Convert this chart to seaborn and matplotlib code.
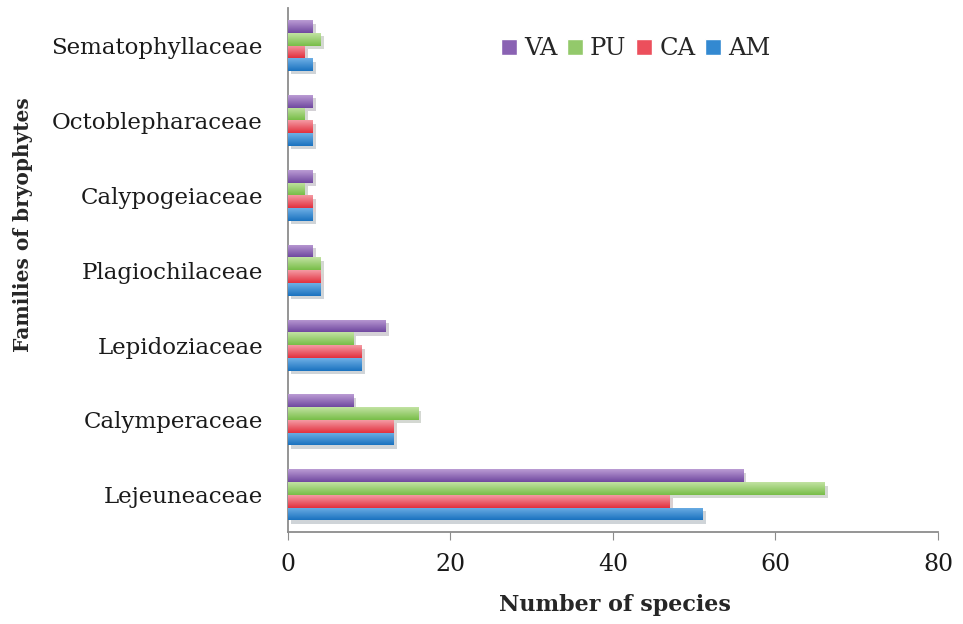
import numpy as np
import pandas as pd
import matplotlib
matplotlib.use("Agg")
import matplotlib.pyplot as plt
import seaborn as sns
from matplotlib.colors import LinearSegmentedColormap
from matplotlib import patheffects

# familias de arriba hacia abajo, como en la figura
families = ["Sematophyllaceae", "Octoblepharaceae", "Calypogeiaceae",
            "Plagiochilaceae", "Lepidoziaceae", "Calymperaceae", "Lejeuneaceae"]
sites = ["VA", "PU", "CA", "AM"]

va = [3, 3, 3, 3, 12, 8, 56]
pu = [4, 2, 2, 4, 8, 16, 66]
ca = [2, 3, 3, 4, 9, 13, 47]
am = [3, 3, 3, 4, 9, 13, 51]

palette = {"VA": "#8a62b3", "PU": "#93c96b", "CA": "#ec4f5c", "AM": "#3389d1"}
# (claro arriba, oscuro abajo) para el degradado tipo Excel
shades = {"VA": ("#bb9cd4", "#7048a0"), "PU": ("#c2e3a2", "#78bd48"),
          "CA": ("#f59aa3", "#e2303e"), "AM": ("#6fb0e6", "#1a72bf")}

df = pd.DataFrame({
    "family": families * 4,
    "site": [s for s in sites for _ in families],
    "species": va + pu + ca + am,
})

sns.set_style("white")
plt.rcParams["font.family"] = ["DejaVu Serif"]

fig = plt.figure(figsize=(9.63, 6.24), dpi=100)
ax = fig.add_axes([0.299, 0.147, 0.675, 0.840])

sns.barplot(data=df, y="family", x="species", hue="site", order=families,
            hue_order=sites, palette=palette, orient="h", width=0.68,
            saturation=1, errorbar=None, ax=ax)

# degradado vertical en cada barra
grad = np.linspace(0, 1, 64).reshape(-1, 1)
for cont, site in zip(ax.containers, sites):
    cmap = LinearSegmentedColormap.from_list(site, shades[site])
    for bar in cont:
        x0, y0 = bar.get_x(), bar.get_y()
        w, h = bar.get_width(), bar.get_height()
        bar.set_edgecolor("none")
        bar.set_path_effects([patheffects.SimplePatchShadow(offset=(2.5, -2.5), alpha=0.2),
                              patheffects.Normal()])
        im = ax.imshow(grad, cmap=cmap, aspect="auto", origin="upper",
                       extent=(x0, x0 + w, y0 + h, y0), zorder=3)
        im.set_clip_path(bar)

ax.set_xlim(0, 80)
ax.set_ylim(6.5, -0.5)
ax.set_xticks([0, 20, 40, 60, 80])

for side in ["top", "right"]:
    ax.spines[side].set_visible(False)
for side in ["left", "bottom"]:
    ax.spines[side].set_color("#8c8c8c")
    ax.spines[side].set_linewidth(1.3)

ax.tick_params(axis="x", length=6, color="#8c8c8c", labelsize=17, pad=9, bottom=True)
ax.tick_params(axis="y", length=0, labelsize=16.5, pad=18)
for lbl in ax.get_xticklabels() + ax.get_yticklabels():
    lbl.set_color("#1a1a1a")

ax.set_xlabel("Number of species", fontsize=16, fontweight="bold")
ax.xaxis.set_label_coords(0.503, -0.118)
ax.set_ylabel("Families of bryophytes", fontsize=14.5, fontweight="bold")
ax.yaxis.set_label_coords(-0.392, 0.586)

handles, labels = ax.get_legend_handles_labels()
ax.legend(handles, labels, loc="center", bbox_to_anchor=(0.535, 0.922), ncol=4,
          frameon=False, fontsize=17.5, handlelength=0.65, handleheight=0.65,
          handletextpad=0.3, columnspacing=0.4)

plt.savefig("out.png", dpi=100)
